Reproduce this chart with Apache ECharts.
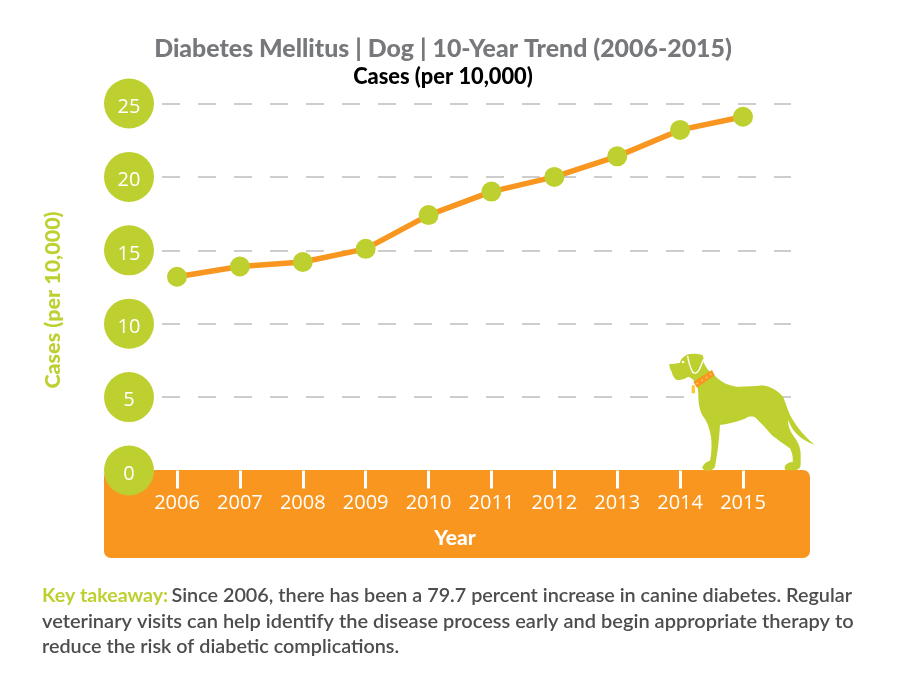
<!DOCTYPE html>
<html><head><meta charset="utf-8">
<script src="https://cdn.jsdelivr.net/npm/echarts@6/dist/echarts.min.js"></script>
<style>html,body{margin:0;padding:0;background:#fff}#c{width:919px;height:693px}</style></head>
<body><div id="c"></div>
<script>
const years = ['2006','2007','2008','2009','2010','2011','2012','2013','2014','2015'];
const cases = [13.2,13.9,14.2,15.1,17.4,19.0,20.0,21.4,23.2,24.1];
const titleText = 'Diabetes Mellitus | Dog | 10-Year Trend (2006-2015)';
const subText = 'Cases (per 10,000)';
const yName = 'Cases (per 10,000)';
const xName = 'Year';
const takeaway = ['Since 2006, there has been a 79.7 percent increase in canine diabetes. Regular',
  'veterinary visits can help identify the disease process early and begin appropriate therapy to',
  'reduce the risk of diabetic complications.'];
const GREEN='#bed030', ORANGE='#f8961f', GREY='#77787b', FONT='Lato';
const dogBody='M88,72 Q105,72 120,68 Q122,52 145,43 Q170,38 188,46 Q192,55 190,64 Q198,88 222,105 Q250,135 290,140 Q330,140 365,136 Q405,140 430,172 Q442,205 450,225 Q480,280 525,315 Q490,302 468,280 Q452,262 445,240 Q442,262 462,290 Q482,315 482,345 L482,372 Q482,388 465,391 L440,391 Q430,388 436,376 Q446,366 458,366 Q460,345 450,325 Q420,305 395,285 Q365,250 345,232 Q330,225 315,236 Q280,250 240,255 Q238,290 233,330 L226,375 Q224,390 205,392 Q188,392 187,382 Q192,368 210,362 Q218,320 212,285 Q205,250 190,230 Q176,210 175,170 Q175,150 170,132 Q158,115 145,110 Q125,122 110,120 Q98,112 95,95 Q88,85 88,72';
const dogEar='M143,48 Q146,72 158,96 Q168,106 178,88 Q186,70 191,58';
const collar='M160,125 L216,90 L224,106 L171,143';
const tag='M155,136 L164,136 L165,160 L155,160';
const collarDots=[[172,130],[186,121],[200,112],[212,103]];
function outline(d){
  const t=d.match(/[MLQ]|-?[\d.]+/g), pts=[]; let i=0, cx=0, cy=0;
  while(i<t.length){
    const c=t[i++];
    if(c==='Q'){
      const a=+t[i++],b=+t[i++],x=+t[i++],y=+t[i++];
      for(let s=1;s<=8;s++){const u=s/8,v=1-u;pts.push([v*v*cx+2*v*u*a+u*u*x,v*v*cy+2*v*u*b+u*u*y]);}
      cx=x;cy=y;
    } else { cx=+t[i++];cy=+t[i++];pts.push([cx,cy]); }
  }
  return pts;
}
const dg=(o)=>Object.assign({x:640,y:340,scaleX:1/3,scaleY:1/3,z:20},o);
const chart=echarts.init(document.getElementById('c'),null,{renderer:'canvas'});
chart.setOption({
  animation:false, backgroundColor:'#fff',
  title:{text:titleText,left:438,top:31,textAlign:'center',
    textStyle:{fontFamily:FONT,fontWeight:900,fontSize:24.9,color:GREY},
    subtext:subText,itemGap:5,
    subtextStyle:{fontFamily:FONT,fontWeight:900,fontSize:21.8,color:'#000'}},
  grid:[{left:162,width:629,top:103.5,height:367},{left:177,width:566,top:103.5,height:367}],
  xAxis:[
    {gridIndex:0,type:'value',min:0,max:1,show:false},
    {gridIndex:1,type:'category',data:years,boundaryGap:false,
     axisLine:{show:false},
     axisTick:{show:true,length:18,lineStyle:{color:'#fff',width:3}},
     axisLabel:{color:'#fff',fontFamily:'Open Sans',fontSize:20,fontWeight:500,margin:23,showMinLabel:true,showMaxLabel:true,interval:0},
     name:xName,nameLocation:'middle',nameGap:57,
     nameTextStyle:{color:'#fff',fontFamily:FONT,fontWeight:900,fontSize:21,padding:[0,10,0,0]}}
  ],
  yAxis:[
    {gridIndex:0,type:'value',min:0,max:25,interval:5,
     axisLine:{show:false},axisTick:{show:false},
     splitLine:{show:true,showMinLine:false,lineStyle:{color:'#bdbdbd',width:1.5,type:[18,18]}},
     axisLabel:{color:'#fff',margin:33,backgroundColor:GREEN,
       width:50,height:50,borderRadius:25,align:'center',verticalAlign:'middle',
       formatter:v=>'{n|'+v+'}',
       rich:{n:{color:'#fff',fontFamily:'Open Sans',fontSize:20,fontWeight:500,lineHeight:50,padding:[7,0,0,0]}}},
     name:yName,nameLocation:'middle',nameGap:98,nameRotate:90,
     nameTextStyle:{color:GREEN,fontFamily:FONT,fontWeight:900,fontSize:21.5,padding:[0,26,0,0]}},
    {gridIndex:1,type:'value',min:0,max:25,interval:5,show:false}
  ],
  series:[{type:'line',xAxisIndex:1,yAxisIndex:1,data:cases,smooth:false,
    lineStyle:{color:ORANGE,width:5.5},
    symbol:'circle',symbolSize:20,itemStyle:{color:GREEN},z:5}],
  graphic:[
    {type:'rect',z:-1,shape:{x:104,y:470,width:706,height:88,r:7},style:{fill:ORANGE}},
    dg({type:'polygon',shape:{points:outline(dogBody)},style:{fill:GREEN}}),
    dg({type:'polyline',shape:{points:outline(dogEar)},style:{fill:'none',stroke:'#fff',lineWidth:4}}),
    dg({type:'polygon',shape:{points:outline(collar)},style:{fill:ORANGE},z:21}),
    ...collarDots.map(p=>dg({type:'circle',shape:{cx:p[0],cy:p[1],r:2.6},style:{fill:'#fdd56a'},z:22})),
    dg({type:'polygon',shape:{points:outline(tag)},style:{fill:'#fdc82f'}}),
    dg({type:'circle',shape:{cx:129,cy:66,r:4},style:{fill:'#fff'}}),
    {type:'text',z:20,x:42,y:583,style:{
      text:'{k|Key takeaway:} {a|'+takeaway[0]+'}\n{b|'+takeaway[1]+'}\n{c|'+takeaway[2]+'}',
      lineHeight:25.5,
      rich:{k:{fill:GREEN,font:'bold 19.6px '+FONT,lineHeight:25.5},
        a:{fill:'#4d4d4f',font:'600 19.8px '+FONT,lineHeight:25.5},
        b:{fill:'#4d4d4f',font:'600 20px '+FONT,lineHeight:25.5},
        c:{fill:'#4d4d4f',font:'600 19.8px '+FONT,lineHeight:25.5}}}}
  ]
});
</script></body></html>
